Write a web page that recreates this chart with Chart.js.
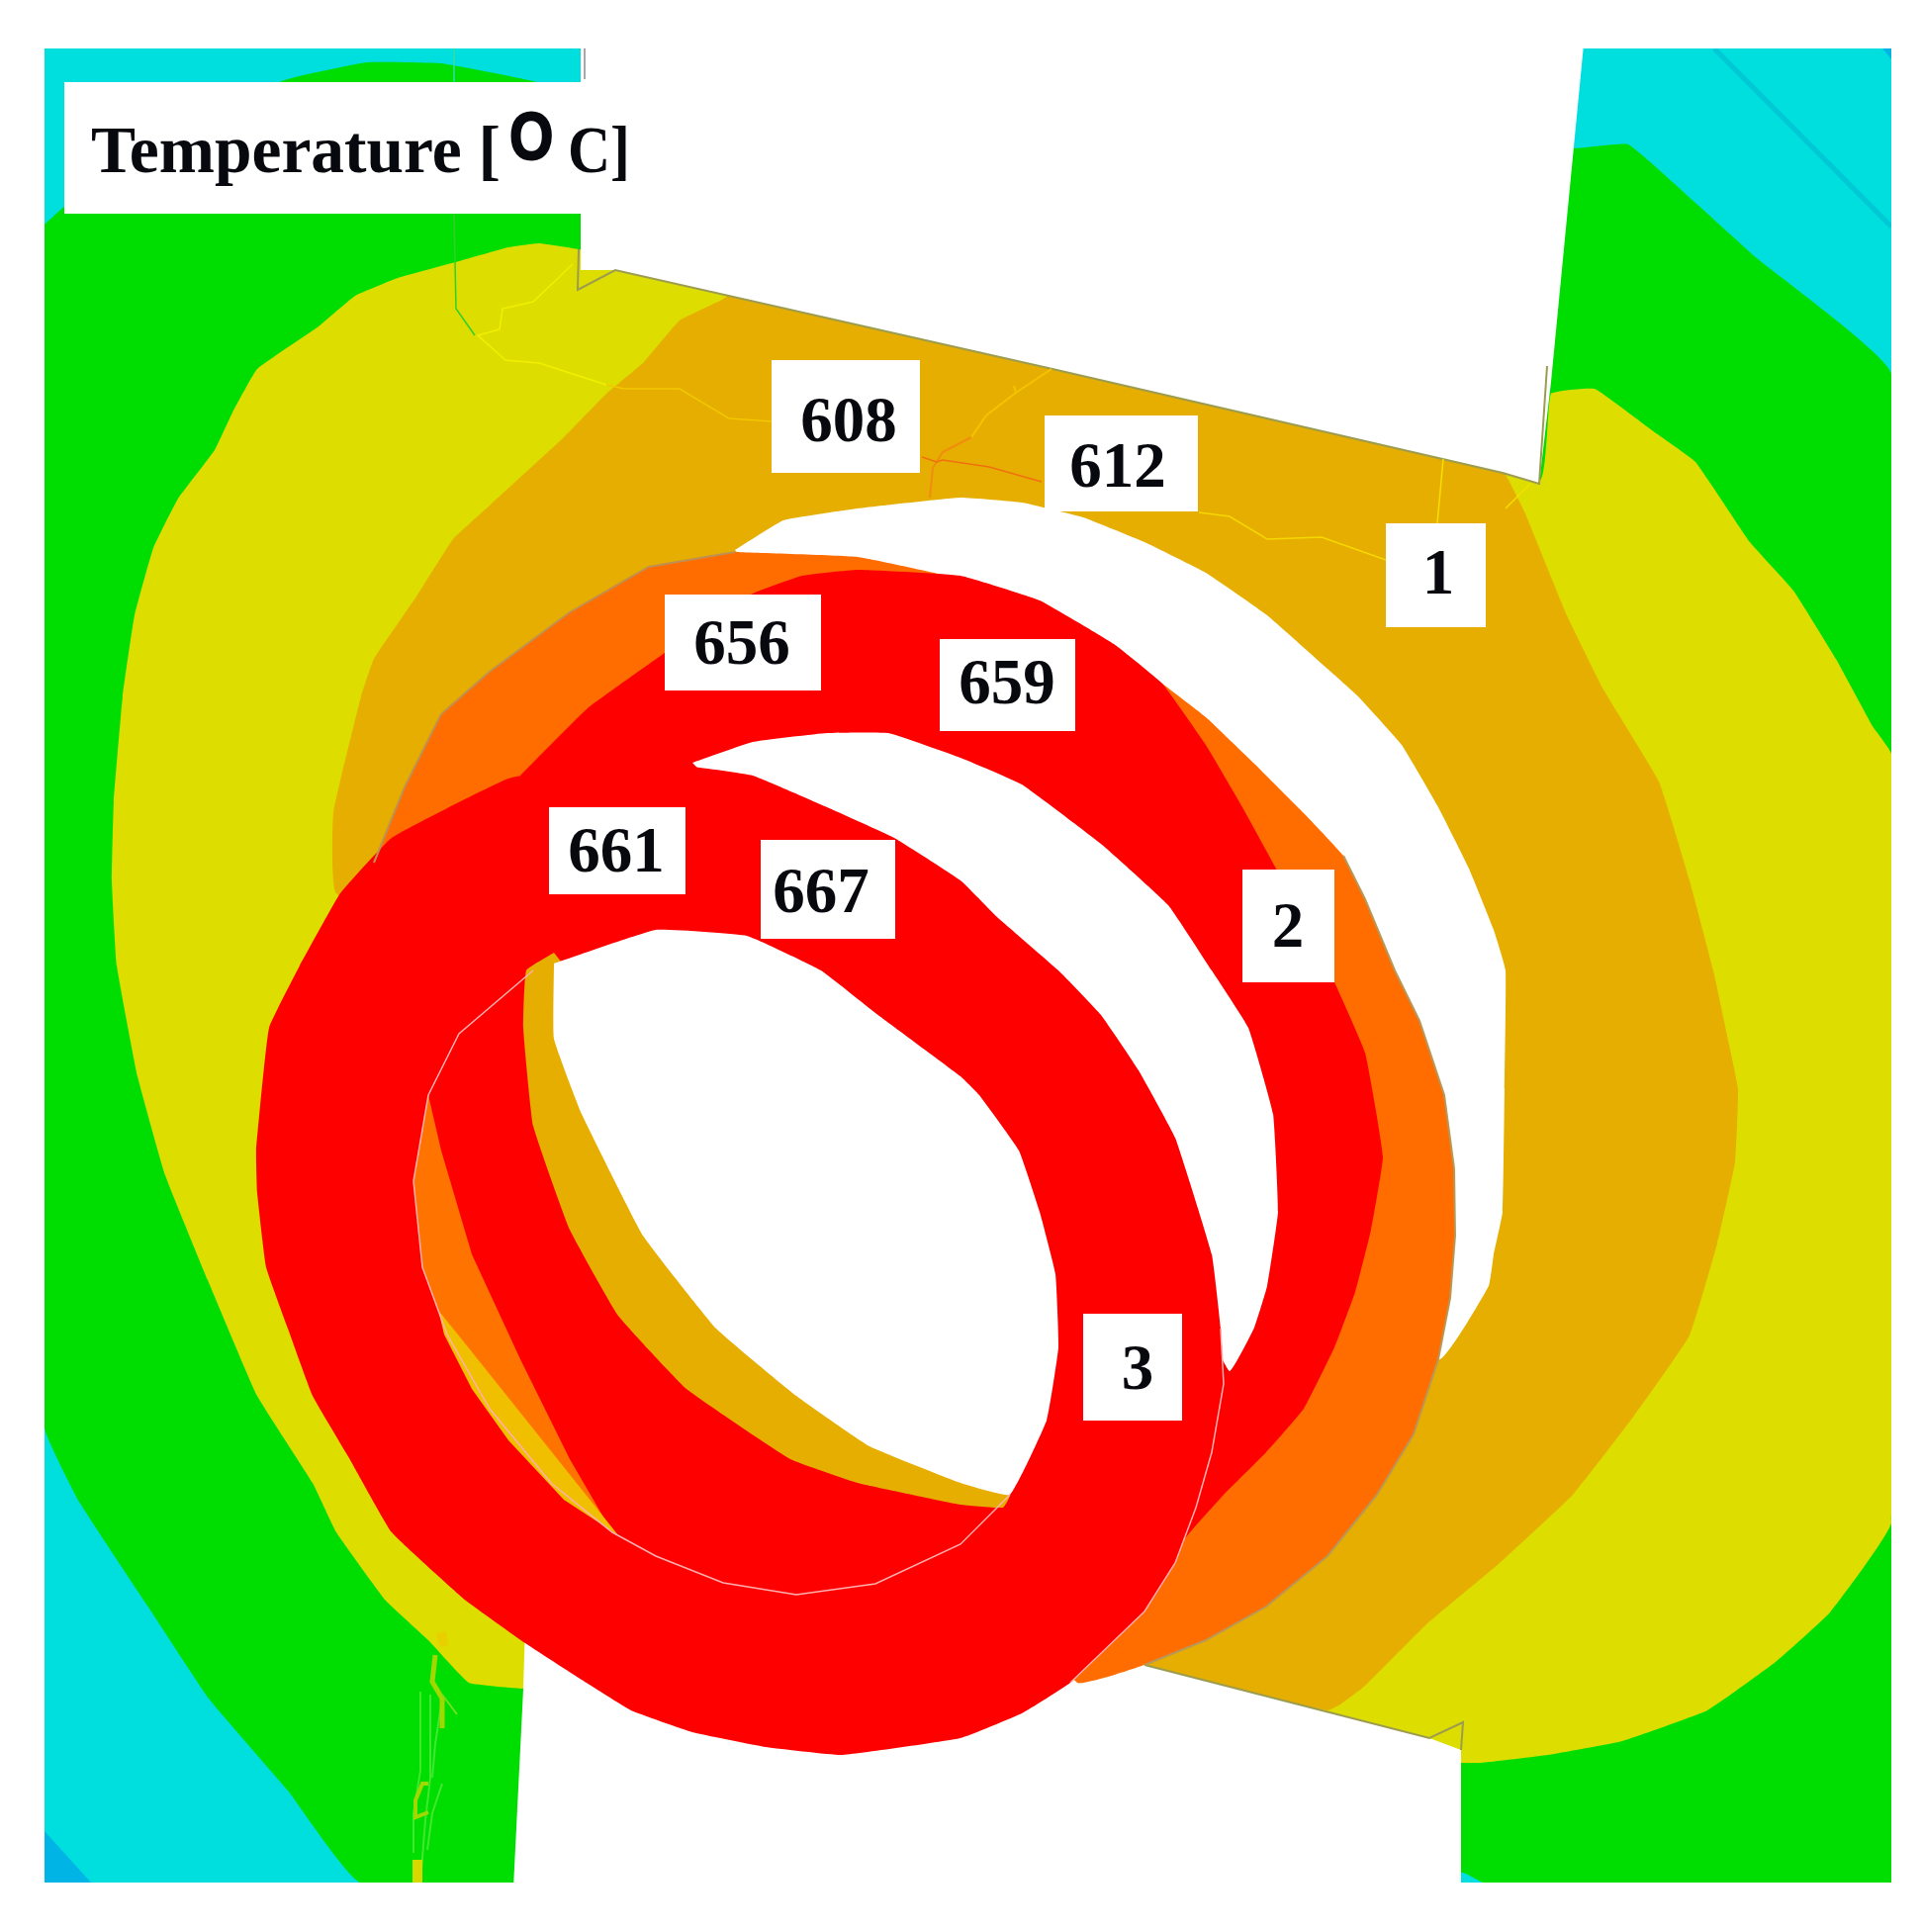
<!DOCTYPE html>
<html>
<head>
<meta charset="utf-8">
<title>Temperature</title>
<script src="https://cdn.jsdelivr.net/npm/chart.js@4"></script>
<style>
    html, body { margin: 0; padding: 0; background: #fff; }
    #wrap { width: 1942px; height: 1953px; position: relative; }
</style>
</head>
<body>
<div id="wrap"><canvas id="map"></canvas></div>
<script>
// Contour bands as [x, y] in image units (back to front)
const frame = [[45,49],[1912,49],[1912,1903],[45,1903]];
const cornerBlue = [[45,1851],[92,1903],[45,1903]];
const cornerBlueTop = [[1903,49],[1912,49],[1912,60]];
const greenBand = [[45,227],[65,209],[285,82],[371,63],[446,64],[539,82],[600,101],[1592,150],[1646,146],[1714,205],[1776,261],[1912,378],[1912,1903],[1500,1903],[1479,1893],[365,1903],[291,1810],[211,1717],[149,1623],[80,1518],[45,1443]];
const yellowBand = [[585,252],[545,246],[514,250],[464,264],[402,281],[359,299],[322,330],[260,373],[235,417],[217,455],[180,504],[155,554],[136,622],[124,704],[115,810],[113,890],[118,976],[139,1088],[167,1188],[210,1294],[260,1411],[316,1499],[340,1549],[390,1618],[433,1658],[474,1701],[529,1707],[1477,1782],[1497,1782],[1565,1774],[1640,1760],[1726,1729],[1795,1680],[1850,1630],[1912,1539],[1912,762],[1893,734],[1856,666],[1813,597],[1769,548],[1714,467],[1670,435],[1612,393],[1568,398],[1556,486]];
const amberBand = [[745,292],[730,303],[687,324],[650,367],[613,398],[570,442],[495,511],[458,545],[421,603],[378,666],[365,704],[337,822],[340,903],[1157,1683],[1342,1729],[1355,1723],[1380,1704],[1442,1642],[1516,1580],[1590,1511],[1652,1431],[1708,1350],[1736,1257],[1754,1175],[1757,1101],[1748,1056],[1732,981],[1708,890],[1677,790],[1621,697],[1584,622],[1541,517],[1522,480],[1500,462]];
const topBlock = [[587,45],[587,273],[622,273],[1064,373],[1519,478],[1556,489],[1568,386],[1601,45]];
const bottomBlock = [[531,1640],[529,1707],[519,1908],[1477,1908],[1477,1769],[1445,1757],[1157,1683],[1100,1664]];
const outerHole = [[743,556],[792,526],[867,514],[971,503],[1033,508],[1095,523],[1157,548],[1219,579],[1281,622],[1342,676],[1373,704],[1417,753],[1454,816],[1485,878],[1510,940],[1522,981],[1521,1101],[1519,1225],[1510,1268],[1505,1300],[1454,1374]];
const orangeBand = [[743,558],[656,573],[576,619],[495,679],[446,722],[409,796],[378,872],[360,905],[1089,1701],[1120,1695],[1157,1683],[1219,1658],[1280,1624],[1342,1573],[1392,1511],[1429,1450],[1454,1374],[1466,1312],[1471,1249],[1470,1181],[1460,1107],[1435,1032],[1410,981],[1380,909],[1358,865],[1318,822],[1268,772],[1219,725],[1175,691],[1126,654],[1051,607],[971,585],[867,563]];
const redBand = [[526,784],[594,716],[672,660],[761,600],[811,582],[867,576],[971,582],[1051,607],[1126,651],[1175,691],[1219,753],[1256,816],[1290,878],[1349,993],[1380,1064],[1398,1169],[1386,1243],[1370,1306],[1349,1362],[1318,1424],[1280,1468],[1237,1511],[1209,1542],[1150,1603]];
const middleHole = [[700,771],[761,750],[836,741],[898,741],[971,766],[1033,793],[1113,853],[1181,915],[1225,981],[1262,1039],[1287,1126],[1292,1225],[1281,1300],[1268,1342],[1243,1386],[1200,1302]];
const frontRing = [[303,976],[344,903],[396,847],[514,787],[619,770],[700,775],[761,784],[836,816],[904,847],[971,890],[1008,927],[1070,981],[1113,1026],[1151,1082],[1188,1150],[1225,1268],[1234,1343],[1237,1399],[1225,1468],[1209,1524],[1188,1580],[1157,1629],[1082,1701],[1033,1732],[971,1757],[851,1774],[774,1766],[700,1751],[638,1729],[588,1698],[531,1661],[471,1618],[396,1549],[353,1474],[316,1411],[291,1343],[269,1281],[260,1206],[259,1163],[272,1039]];
const innerOrange = [[433,1107],[446,1163],[477,1268],[526,1374],[576,1475],[619,1549],[443,1324],[427,1281],[418,1194]];
const innerSliver = [[443,1324],[625,1552],[570,1516],[514,1456],[477,1404],[449,1349]];
const innerAmber = [[560,963],[532,981],[529,1039],[539,1138],[576,1243],[625,1330],[694,1404],[799,1475],[867,1499],[971,1521],[1014,1524],[1021,1511],[971,1483]];
const innerHole = [[560,974],[560,1050],[588,1126],[650,1249],[724,1343],[805,1411],[879,1462],[971,1499],[1021,1511],[1058,1436],[1070,1362],[1067,1288],[1051,1225],[1030,1163],[990,1107],[971,1088],[885,1024],[830,981],[755,946],[663,940]];

// Thin traces: cracks and mesh edges
const crackA = [[579,267],[539,305],[508,312],[505,333],[483,339],[511,364],[545,367],[613,389]];
const crackB = [[613,389],[631,393],[687,393],[737,423],[780,426]];
const crackC = [[1063,373],[1027,397],[997,420],[982,442]];
const crackC2 = [[982,442],[953,457],[943,473],[940,503]];
const crackC3 = [[1027,397],[1025,390]];
const crackD = [[932,462],[947,467],[953,465],[1000,472],[1053,487]];
const crackE = [[1212,518],[1243,522],[1281,545],[1336,543],[1401,566]];
const crackF = [[1459,464],[1453,529]];
const crackG = [[1522,514],[1547,489]];
const crackH = [[459,49],[459,83]];
const crackI = [[459,216],[461,312],[480,339]];
const crackJ = [[425,1710],[425,1790],[418,1833],[418,1873]];
const crackK = [[435,1713],[435,1797],[430,1840],[425,1903]];
const crackL = [[447,1717],[440,1763],[437,1797]];
const crackM = [[447,1803],[437,1833],[432,1870]];
const crackBrush = [[440,1673],[437,1700],[447,1717],[447,1747]];
const crackBranch = [[447,1713],[462,1733]];
const crackBlob = [[433,1803],[427,1803],[420,1820],[420,1837],[433,1832]];
const crackFoot = [[422,1880],[422,1903]];
const crackSpot = [[446,1650],[449,1664]];
const stripe = [[1733,49],[1912,229]];
const topEdge = [[591,49],[591,80]];
const notchEdge = [[585,252],[584,293],[622,273],[1064,373],[1519,478],[1556,489],[1564,370]];
const lowerEdge = [[1157,1683],[1445,1757],[1479,1741],[1477,1769]];
const ringLine = [[539,981],[464,1045],[433,1107],[418,1194],[427,1281],[452,1349],[495,1424],[557,1499],[619,1549],[663,1573],[731,1600],[805,1612],[885,1601],[971,1561],[1021,1511]];
const ringOuterLine = [[1234,1343],[1237,1399],[1225,1468],[1209,1524],[1188,1580],[1157,1629],[1082,1701]];
const orangeEdge = [[743,558],[656,573],[576,619],[495,679],[446,722],[409,796],[378,872]];
const orangeEdgeRight = [[1358,865],[1380,909],[1410,981],[1435,1032],[1460,1107],[1470,1181],[1471,1249],[1466,1312],[1454,1374],[1429,1450],[1392,1511],[1342,1573],[1280,1624],[1219,1658],[1157,1683]];

// Text labels
const labelTexts = ['608', '612', '1', '656', '659', '2', '661', '667', '3'];
const labelBoxes = [[780,364,930,478],[1056,420,1211,517],[1401,529,1502,634],[672,601,830,698],[950,646,1087,739],[1256,879,1349,993],[555,816,693,904],[769,849,905,949],[1095,1328,1195,1436]];
const labelAnchors = [[858,446],[1130,492],[1454,600],[750,671],[1018,711],[1302,957],[623,881],[830,922],[1150,1404]];
const titleBox = [65,83,587,216];
const titleParts = ['Temperature [', 'O', 'C]'];
const titleAnchors = [[92,174],[515,161],[574,174]];
const margins = [[0,0,1942,49],[0,0,45,1953],[1912,0,1942,1953],[0,1903,1942,1953]];

function boxToPoly(b) {
    return [[b[0], b[1]], [b[2], b[1]], [b[2], b[3]], [b[0], b[3]]];
}

const SOFT = 0.1;
const fills = [
    [frame, '#00DEDE', 0],
    [cornerBlue, '#00B4E6', 0],
    [cornerBlueTop, '#00B4E6', 0],
    [greenBand, '#00DD00', SOFT],
    [yellowBand, '#DDDD00', SOFT],
    [amberBand, '#E6AE00', SOFT],
    [topBlock, '#FFFFFF', 0],
    [bottomBlock, '#FFFFFF', 0],
    [outerHole, '#FFFFFF', SOFT],
    [orangeBand, '#FF6C00', SOFT],
    [redBand, '#FF0000', SOFT],
    [middleHole, '#FFFFFF', SOFT],
    [frontRing, '#FF0000', SOFT],
    [innerOrange, '#FF7400', 0],
    [innerSliver, '#F0C000', 0],
    [innerAmber, '#E6AE00', SOFT],
    [innerHole, '#FFFFFF', SOFT],
];
const boxes = margins.concat([titleBox], labelBoxes);

const traces = [
    [stripe, '#00C8D4', 5],
    [topEdge, '#A8A8A8', 2],
    [notchEdge, '#9C9C50', 2],
    [lowerEdge, '#9C9C50', 2],
    [orangeEdge, '#C09050', 2],
    [orangeEdgeRight, '#B89858', 2],
    [ringLine, '#FFB0B0', 1.5],
    [ringOuterLine, '#FFB0B0', 1.5],
    [crackA, '#F2F000', 1.5],
    [crackB, '#F2C800', 1.5],
    [crackC, '#F5C400', 2],
    [crackC2, '#F08C10', 2],
    [crackC3, '#F5C400', 2],
    [crackD, '#F07010', 1.5],
    [crackE, '#F5D800', 1.5],
    [crackF, '#F5E000', 1.5],
    [crackG, '#F5E000', 1.5],
    [crackH, '#30E0A0', 1.5],
    [crackI, '#30D030', 1.5],
    [crackJ, '#40E830', 2],
    [crackK, '#40E830', 2],
    [crackL, '#40E830', 2],
    [crackM, '#40E830', 2],
    [crackBrush, '#A0D800', 5],
    [crackBranch, '#70E020', 2],
    [crackBlob, '#A0D800', 4],
    [crackFoot, '#D8D800', 10],
    [crackSpot, '#E8D000', 10],
];

const toPoints = arr => arr.map(p => ({ x: p[0], y: p[1] }));

// later entries in the list go on top, so order counts down
const datasets = [];
let level = fills.length + traces.length + boxes.length;
fills.forEach(f => {
    datasets.push({
        data: toPoints(f[0].concat([f[0][0]])),
        showLine: true,
        fill: 'shape',
        backgroundColor: f[1],
        borderWidth: 0,
        pointRadius: 0,
        tension: f[2],
        order: level--,
    });
});
traces.forEach(t => {
    datasets.push({
        data: toPoints(t[0]),
        showLine: true,
        fill: false,
        borderColor: t[1],
        borderWidth: t[2],
        pointRadius: 0,
        tension: 0,
        order: level--,
    });
});
boxes.forEach(b => {
    const poly = boxToPoly(b);
    datasets.push({
        data: toPoints(poly.concat([poly[0]])),
        showLine: true,
        fill: 'shape',
        backgroundColor: '#FFFFFF',
        borderWidth: 0,
        pointRadius: 0,
        tension: 0,
        order: level--,
    });
});

// Labels sit above everything, placed through the chart's scales
const textPlugin = {
    id: 'textPlugin',
    afterDatasetsDraw(chart) {
        const { ctx, scales } = chart;
        const px = a => [scales.x.getPixelForValue(a[0]), scales.y.getPixelForValue(a[1])];
        ctx.save();
        ctx.fillStyle = '#08080f';
        ctx.strokeStyle = '#08080f';
        ctx.textBaseline = 'alphabetic';
        ctx.textAlign = 'center';
        ctx.font = 'bold 65px "Liberation Serif"';
        labelTexts.forEach((t, i) => ctx.fillText(t, ...px(labelAnchors[i])));
        ctx.textAlign = 'left';
        ctx.font = 'bold 68px "Liberation Serif"';
        ctx.fillText(titleParts[0], ...px(titleAnchors[0]), 414);
        ctx.fillText(titleParts[2], ...px(titleAnchors[2]), 63);
        // the degree ring is a tall bold O
        const o = px(titleAnchors[1]);
        ctx.translate(o[0], o[1]);
        ctx.scale(0.84, 1);
        ctx.font = 'bold 68px "Liberation Sans"';
        ctx.lineWidth = 2;
        ctx.fillText(titleParts[1], 0, 0);
        ctx.strokeText(titleParts[1], 0, 0);
        ctx.restore();
    }
};

new Chart(document.getElementById('map'), {
    type: 'scatter',
    data: { datasets },
    plugins: [textPlugin],
    options: {
        responsive: true,
        maintainAspectRatio: false,
        animation: false,
        layout: { padding: 0 },
        plugins: { legend: { display: false }, tooltip: { enabled: false } },
        scales: {
            x: { type: 'linear', min: 0, max: 1942, display: false },
            y: { type: 'linear', min: 0, max: 1953, reverse: true, display: false },
        },
    },
});
</script>
</body>
</html>
